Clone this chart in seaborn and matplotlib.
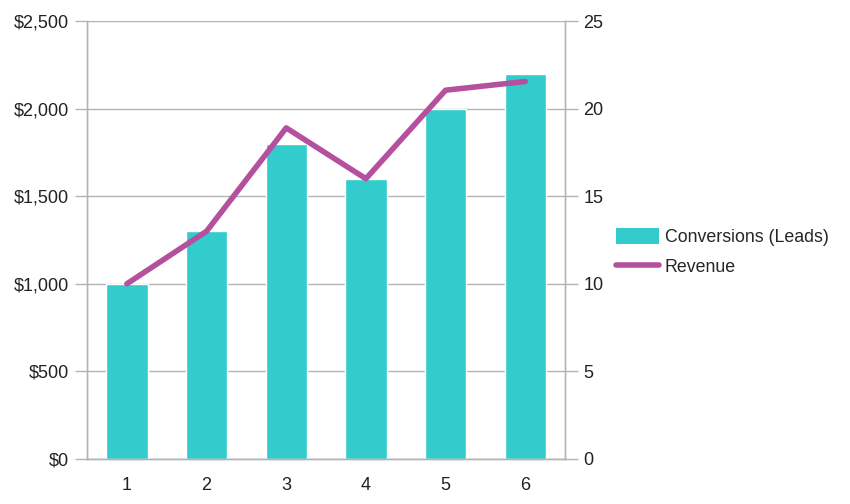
import numpy as np
import matplotlib
matplotlib.use("Agg")
import matplotlib.pyplot as plt
from matplotlib.patches import Patch
from matplotlib.lines import Line2D
from matplotlib.ticker import FuncFormatter, FixedLocator
import seaborn as sns

# data
periods = ["1", "2", "3", "4", "5", "6"]
conversions = [1000, 1300, 1800, 1600, 2000, 2200]
revenue = [10, 13, 18.9, 16, 21.05, 21.55]

bar_color = "#33CCCC"
line_color = "#B5509F"
axis_gray = "#b3b3b3"

sns.set_style("white")
plt.rcParams["font.family"] = ["Liberation Sans", "DejaVu Sans"]
plt.rcParams["font.size"] = 13

fig = plt.figure(figsize=(8.5, 5.04), dpi=100)
ax = fig.add_axes([0.1024, 0.0893, 0.5624, 0.8690])

sns.barplot(x=periods, y=conversions, ax=ax, color=bar_color,
            width=0.52, saturation=1, zorder=2)
ax.set_ylim(0, 2500)
ax.set_yticks(np.arange(0, 2501, 500))
ax.yaxis.set_major_formatter(FuncFormatter(lambda v, p: "${:,.0f}".format(v)))
ax.yaxis.grid(True, color=axis_gray, linewidth=1, zorder=0)
ax.set_axisbelow(True)
ax.set_xlabel("")
ax.set_ylabel("")

ax2 = ax.twinx()
sns.pointplot(x=periods, y=revenue, ax=ax2, color=line_color,
              markers="", linestyles="-", errorbar=None, linewidth=4)
ax2.set_ylim(0, 25)
ax2.set_yticks(np.arange(0, 26, 5))
ax2.set_ylabel("")
ax2.set_xlabel("")
ax.set_xlim(-0.5, 5.5)
ax2.set_xlim(-0.5, 5.5)

for a in (ax, ax2):
    a.spines["top"].set_visible(False)
    for side in ("left", "right", "bottom"):
        a.spines[side].set_color(axis_gray)
        a.spines[side].set_linewidth(1)

ax.tick_params(axis="y", length=9, color=axis_gray, width=1, pad=4,
               labelcolor="#222222")
ax2.tick_params(axis="y", length=9, color=axis_gray, width=1, pad=4,
                labelcolor="#222222")
ax.tick_params(axis="x", which="major", length=0, pad=13, labelcolor="#222222")
ax.xaxis.set_minor_locator(FixedLocator(np.arange(-0.5, 6, 1)))
ax.tick_params(axis="x", which="minor", length=8, color=axis_gray, width=1)

handles = [Patch(facecolor=bar_color, edgecolor="none", label="Conversions (Leads)"),
           Line2D([0], [0], color=line_color, linewidth=4, label="Revenue")]
fig.legend(handles=handles, loc="center left", bbox_to_anchor=(0.706, 0.5),
           frameon=False, handlelength=2.4, handleheight=1.0,
           handletextpad=0.35, labelspacing=0.7, fontsize=12.8)

fig.savefig("out.png", dpi=100)
